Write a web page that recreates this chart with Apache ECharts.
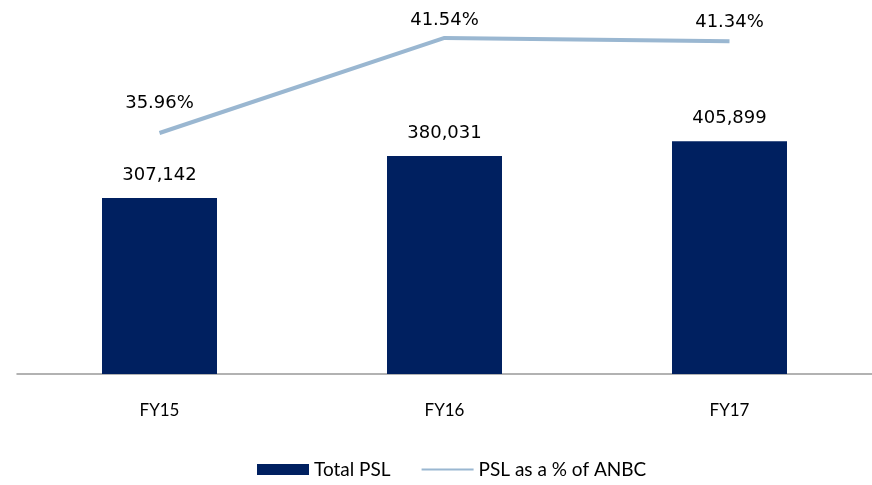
<!DOCTYPE html>
<html>
<head>
<meta charset="utf-8">
<script src="https://cdn.jsdelivr.net/npm/echarts@6/dist/echarts.min.js"></script>
<style>html,body{margin:0;padding:0;background:#fff;}#c{width:872px;height:485px;}</style>
</head>
<body>
<div id="c"></div>
<script>
var categories = ['FY15', 'FY16', 'FY17'];
var totalPSL = [307142, 380031, 405899];
var pslPct = [35.96, 41.54, 41.34];

// label placement (style only)
var pctLabelDistance = [20, 8, 10];

var chart = echarts.init(document.getElementById('c'));
chart.setOption({
  animation: false,
  grid: { left: 17, right: -4, top: 10, bottom: 111 },
  legend: {
    bottom: 1,
    left: 252,
    itemGap: 30,
    itemWidth: 52,
    itemHeight: 11,
    textStyle: { fontFamily: 'Lato', fontSize: 19, color: '#000' },
    data: [
      { name: 'Total PSL', icon: 'rect' },
      { name: 'PSL as a % of ANBC', itemStyle: { color: 'transparent' }, lineStyle: { width: 2 } }
    ]
  },
  xAxis: {
    type: 'category',
    data: categories,
    axisLine: { lineStyle: { color: '#999', width: 1.5 } },
    axisTick: { show: false },
    axisLabel: { fontFamily: 'Lato', fontSize: 17, color: '#000', margin: 28 }
  },
  yAxis: [
    { type: 'value', min: 0, max: 634800, show: false, splitLine: { show: false } },
    { type: 'value', min: 21.81, max: 43.18, show: false, splitLine: { show: false } }
  ],
  series: [
    {
      name: 'Total PSL',
      type: 'bar',
      data: totalPSL,
      barWidth: 115,
      itemStyle: { color: '#002060' },
      label: {
        show: true, position: 'top', distance: 14,
        fontFamily: 'DejaVu Sans', fontSize: 18, color: '#000',
        formatter: function (p) { return p.value.toLocaleString('en-US'); }
      }
    },
    {
      name: 'PSL as a % of ANBC',
      type: 'line',
      yAxisIndex: 1,
      data: pslPct.map(function (v, i) {
        return { value: v, label: { distance: pctLabelDistance[i] } };
      }),
      symbol: 'circle',
      symbolSize: 1,
      lineStyle: { color: '#9ab7d1', width: 4 },
      itemStyle: { color: 'transparent', borderWidth: 0 },
      label: {
        show: true, position: 'top', distance: 20,
        fontFamily: 'DejaVu Sans', fontSize: 18, color: '#000',
        formatter: function (p) { return p.value.toFixed(2) + '%'; }
      }
    }
  ]
});
</script>
</body>
</html>
